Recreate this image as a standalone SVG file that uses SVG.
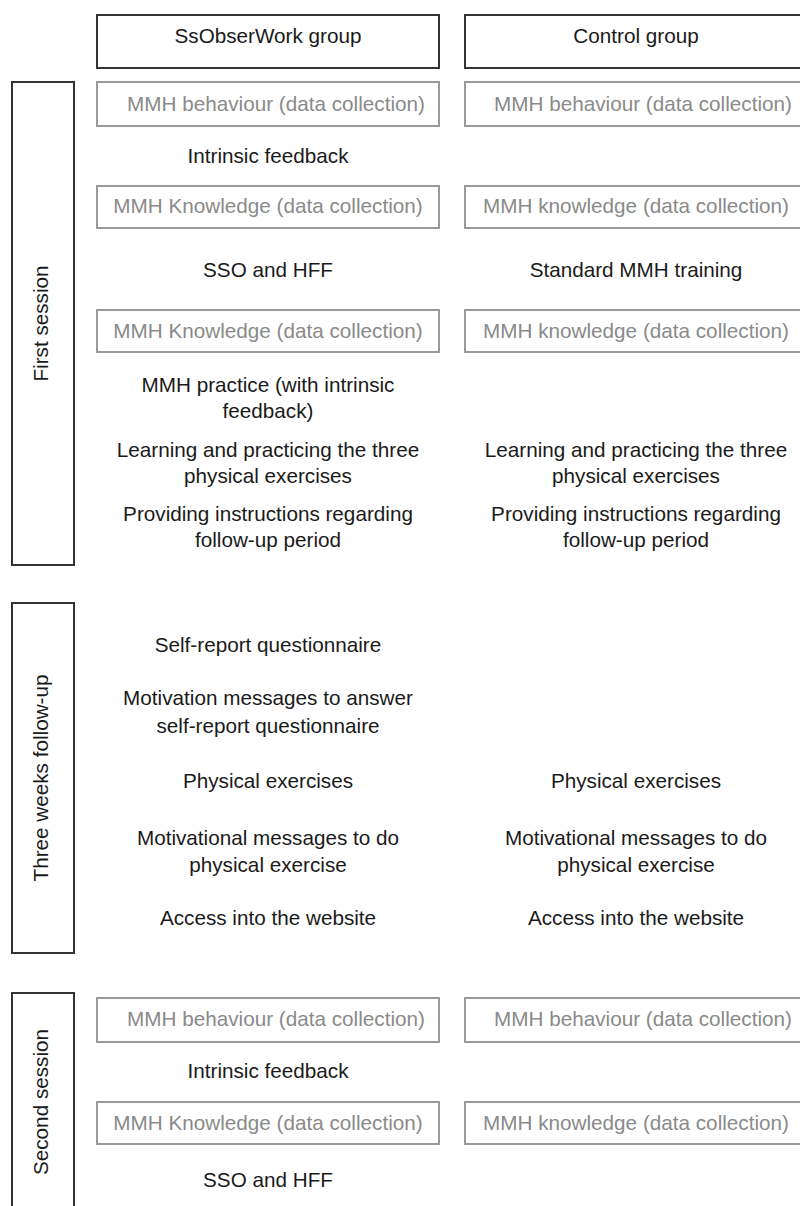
<svg xmlns="http://www.w3.org/2000/svg" width="800" height="1206" viewBox="0 0 800 1206">
<style>
text{font-family:"Liberation Sans",Arial,Helvetica,sans-serif;font-size:20.7px;text-anchor:middle;fill:#1a1a1a}
.hdr{fill:#fff;stroke:#333;stroke-width:2}
.bar{fill:#fff;stroke:#333;stroke-width:2}
.dc{fill:#fff;stroke:#9a9a9a;stroke-width:2}
text.g{fill:#8a8a8a}
</style>
<rect x="0" y="0" width="800" height="1206" fill="#fff"/>
<g id="phases">
<g id="first-session"><rect class="bar" x="12" y="82" width="62" height="483"/><text transform="translate(48,323.5) rotate(-90)">First session</text></g>
<g id="three-weeks"><rect class="bar" x="12" y="603" width="62" height="350"/><text transform="translate(48,778) rotate(-90)">Three weeks follow-up</text></g>
<g id="second-session"><rect class="bar" x="12" y="993" width="62" height="230"/><text transform="translate(48,1102) rotate(-90)">Second session</text></g>
</g>
<g id="headers">
<g id="h-ss"><rect class="hdr" x="97" y="15" width="342" height="53"/><text x="268" y="43">SsObserWork group</text></g>
<g id="h-ctrl"><rect class="hdr" x="465" y="15" width="343" height="53"/><text x="636" y="43">Control group</text></g>
</g>
<g id="ss-column">
<g id="ss-b1"><rect class="dc" x="97" y="82" width="342" height="44"/><text class="g" x="276" y="111">MMH behaviour (data collection)</text></g>
<g id="ss-if1"><text x="268" y="163">Intrinsic feedback</text></g>
<g id="ss-k1"><rect class="dc" x="97" y="186" width="342" height="42"/><text class="g" x="268" y="213">MMH Knowledge (data collection)</text></g>
<g id="ss-sso1"><text x="268" y="277">SSO and HFF</text></g>
<g id="ss-k2"><rect class="dc" x="97" y="310" width="342" height="42"/><text class="g" x="268" y="338">MMH Knowledge (data collection)</text></g>
<g id="ss-practice"><text x="268" y="392">MMH practice (with intrinsic</text><text x="268" y="418">feedback)</text></g>
<g id="ss-learn"><text x="268" y="457">Learning and practicing the three</text><text x="268" y="483">physical exercises</text></g>
<g id="ss-instr"><text x="268" y="521">Providing instructions regarding</text><text x="268" y="547">follow-up period</text></g>
<g id="ss-selfrep"><text x="268" y="652">Self-report questionnaire</text></g>
<g id="ss-motq"><text x="268" y="705">Motivation messages to answer</text><text x="268" y="733">self-report questionnaire</text></g>
<g id="ss-phys"><text x="268" y="788">Physical exercises</text></g>
<g id="ss-motex"><text x="268" y="845">Motivational messages to do</text><text x="268" y="872">physical exercise</text></g>
<g id="ss-web"><text x="268" y="925">Access into the website</text></g>
<g id="ss-b2"><rect class="dc" x="97" y="998" width="342" height="44"/><text class="g" x="276" y="1026">MMH behaviour (data collection)</text></g>
<g id="ss-if2"><text x="268" y="1078">Intrinsic feedback</text></g>
<g id="ss-k3"><rect class="dc" x="97" y="1102" width="342" height="42"/><text class="g" x="268" y="1130">MMH Knowledge (data collection)</text></g>
<g id="ss-sso2"><text x="268" y="1187">SSO and HFF</text></g>
</g>
<g id="ctrl-column">
<g id="c-b1"><rect class="dc" x="465" y="82" width="343" height="44"/><text class="g" x="643" y="111">MMH behaviour (data collection)</text></g>
<g id="c-k1"><rect class="dc" x="465" y="186" width="343" height="42"/><text class="g" x="636" y="213">MMH knowledge (data collection)</text></g>
<g id="c-std"><text x="636" y="277">Standard MMH training</text></g>
<g id="c-k2"><rect class="dc" x="465" y="310" width="343" height="42"/><text class="g" x="636" y="338">MMH knowledge (data collection)</text></g>
<g id="c-learn"><text x="636" y="457">Learning and practicing the three</text><text x="636" y="483">physical exercises</text></g>
<g id="c-instr"><text x="636" y="521">Providing instructions regarding</text><text x="636" y="547">follow-up period</text></g>
<g id="c-phys"><text x="636" y="788">Physical exercises</text></g>
<g id="c-motex"><text x="636" y="845">Motivational messages to do</text><text x="636" y="872">physical exercise</text></g>
<g id="c-web"><text x="636" y="925">Access into the website</text></g>
<g id="c-b2"><rect class="dc" x="465" y="998" width="343" height="44"/><text class="g" x="643" y="1026">MMH behaviour (data collection)</text></g>
<g id="c-k3"><rect class="dc" x="465" y="1102" width="343" height="42"/><text class="g" x="636" y="1130">MMH knowledge (data collection)</text></g>
</g>
<g id="connectors"></g>
</svg>
